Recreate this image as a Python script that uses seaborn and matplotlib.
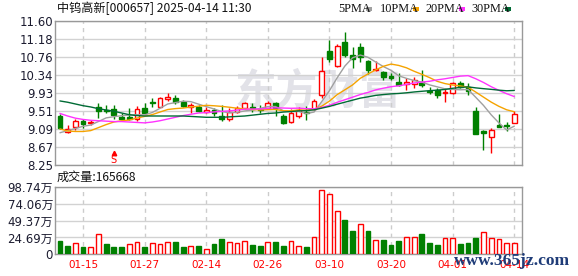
import numpy as np
import pandas as pd
import matplotlib
matplotlib.use("Agg")
import matplotlib.pyplot as plt
from matplotlib.patches import Rectangle
import seaborn as sns

# ---------------- data ----------------
dates = ["01-10", "01-13", "01-14", "01-15", "01-16", "01-17", "01-20", "01-21", "01-22", "01-23",
         "01-24", "01-27", "02-05", "02-06", "02-07", "02-10", "02-11", "02-12", "02-13", "02-14",
         "02-17", "02-18", "02-19", "02-20", "02-21", "02-24", "02-25", "02-26", "02-27", "02-28",
         "03-03", "03-04", "03-05", "03-06", "03-07", "03-10", "03-11", "03-12", "03-13", "03-14",
         "03-17", "03-18", "03-19", "03-20", "03-21", "03-24", "03-25", "03-26", "03-27", "03-28",
         "03-31", "04-01", "04-02", "04-03", "04-07", "04-08", "04-09", "04-10", "04-11", "04-14"]

opens = [9.38, 9.01, 9.14, 9.27, 9.22, 9.60, 9.53, 9.55, 9.37, 9.36,
         9.31, 9.58, 9.71, 9.61, 9.78, 9.81, 9.72, 9.60, 9.61, 9.49,
         9.53, 9.39, 9.31, 9.49, 9.57, 9.60, 9.55, 9.57, 9.70, 9.39,
         9.25, 9.40, 9.48, 9.55, 9.88, 10.90, 10.56, 11.10, 10.82, 10.99,
         10.67, 10.46, 10.41, 10.31, 10.19, 10.13, 10.13, 10.19, 9.97, 9.99,
         9.92, 9.92, 10.15, 10.07, 9.50, 9.03, 8.91, 9.17, 9.17, 9.22]
highs = [9.43, 9.18, 9.33, 9.33, 9.29, 9.69, 9.65, 9.65, 9.45, 9.58,
         9.62, 9.70, 9.80, 9.84, 9.92, 9.88, 9.76, 9.69, 9.65, 9.61,
         9.57, 9.65, 9.58, 9.62, 9.72, 9.69, 9.64, 9.75, 9.72, 9.43,
         9.55, 9.61, 9.62, 9.78, 10.77, 11.16, 11.06, 11.34, 11.00, 11.08,
         10.69, 10.68, 10.44, 10.38, 10.38, 10.28, 10.30, 10.46, 10.07, 10.03,
         10.03, 10.17, 10.21, 10.15, 9.59, 9.06, 9.10, 9.44, 9.26, 9.51]
lows = [9.08, 8.99, 9.07, 9.12, 9.19, 9.35, 9.47, 9.33, 9.30, 9.30,
        9.28, 9.45, 9.61, 9.60, 9.75, 9.68, 9.61, 9.45, 9.48, 9.45,
        9.38, 9.28, 9.27, 9.45, 9.55, 9.49, 9.45, 9.55, 9.38, 9.20,
        9.22, 9.34, 9.30, 9.53, 9.82, 10.64, 10.52, 10.77, 10.51, 10.64,
        10.36, 10.43, 10.23, 10.23, 10.09, 9.99, 10.04, 10.07, 9.90, 9.80,
        9.72, 9.90, 10.03, 9.88, 8.98, 8.60, 8.54, 9.13, 9.05, 9.22]
closes = [9.10, 9.08, 9.27, 9.20, 9.25, 9.51, 9.50, 9.41, 9.31, 9.33,
          9.56, 9.47, 9.69, 9.80, 9.83, 9.72, 9.63, 9.64, 9.51, 9.54,
          9.45, 9.33, 9.49, 9.57, 9.70, 9.55, 9.53, 9.70, 9.57, 9.22,
          9.45, 9.53, 9.46, 9.75, 10.44, 10.72, 11.03, 10.82, 10.71, 10.76,
          10.46, 10.48, 10.29, 10.27, 10.12, 10.17, 10.22, 10.11, 9.95, 9.89,
          9.94, 10.15, 10.07, 9.98, 8.98, 9.00, 9.06, 9.13, 9.15, 9.43]

# volume in 万 (10k)
volume = [19.8, 12.4, 15.9, 10.9, 10.9, 29.7, 14.9, 10.9, 10.9, 14.9,
          17.8, 10.9, 15.9, 14.9, 17.8, 18.3, 10.9, 12.4, 12.4, 8.0,
          14.9, 22.8, 17.8, 15.9, 19.3, 13.9, 12.4, 17.8, 17.8, 12.4,
          19.3, 11.9, 10.9, 25.3, 93.3, 88.8, 63.7, 50.9, 34.6, 44.5,
          34.6, 20.8, 20.8, 13.9, 19.3, 25.3, 25.3, 30.2, 16.4, 13.9,
          23.8, 23.8, 14.9, 16.4, 24.2, 32.7, 23.8, 22.3, 16.4, 16.57]
# 1 = red (close above previous close), 0 = green
volume_up = [0, 0, 1, 0, 1, 1, 0, 0, 0, 1,
             1, 0, 1, 1, 1, 0, 0, 1, 0, 1,
             0, 0, 1, 1, 1, 0, 0, 1, 0, 0,
             1, 1, 0, 1, 1, 1, 1, 0, 0, 1,
             0, 1, 0, 0, 0, 1, 1, 0, 0, 0,
             1, 1, 0, 0, 0, 1, 1, 1, 1, 1]

# start of the moving-average lines (their windows reach back before the first visible day)
ma5_head = [9.00, 9.05, 9.10, 9.15]
ma10_head = [9.09, 9.04, 9.03, 9.03, 9.05, 9.12, 9.19, 9.25, 9.28]
ma20_head = [9.45, 9.39, 9.34, 9.31, 9.29, 9.28, 9.27, 9.26, 9.26, 9.25,
             9.24, 9.23, 9.25, 9.28, 9.32, 9.36, 9.40, 9.43, 9.46]
ma30_head = [9.74, 9.71, 9.67, 9.63, 9.60, 9.56, 9.53, 9.50, 9.46, 9.42,
             9.40, 9.39, 9.39, 9.39, 9.39, 9.39, 9.39, 9.38, 9.37, 9.36,
             9.36, 9.36, 9.37, 9.38, 9.39, 9.41, 9.43, 9.45, 9.46]

price_ticks = [8.25, 8.66875, 9.0875, 9.50625, 9.925, 10.34375, 10.7625, 11.18125, 11.60]
price_labels = ["8.25", "8.67", "9.09", "9.51", "9.93", "10.34", "10.76", "11.18", "11.60"]
vol_ticks = [0, 24.685, 49.37, 74.055, 98.74]
vol_labels = ["0", "24.69万", "49.37万", "74.06万", "98.74万"]
date_tick_idx = [3, 11, 19, 27, 35, 43, 51, 59]

title = "中钨高新[000657] 2025-04-14 11:30"
vol_title = "成交量:165668"
signal_day = 7

# ---------------- derived ----------------
n = len(closes)
idx = np.arange(n)
cs = pd.Series(closes)


def moving_average(window, head):
    m = cs.rolling(window).mean()
    m.iloc[:len(head)] = head
    return m


ma = pd.DataFrame({
    "i": idx,
    "ma5": moving_average(5, ma5_head),
    "ma10": moving_average(10, ma10_head),
    "ma20": moving_average(20, ma20_head),
    "ma30": moving_average(30, ma30_head),
})

RED = "#ff0000"
GREEN = "#008000"
ma_colors = {"ma5": "#a0a0a0", "ma10": "#f5a300", "ma20": "#ff33ff", "ma30": "#006b35"}

# ---------------- figure ----------------
sns.set_theme(style="white")
plt.rcParams["font.family"] = ["Noto Sans CJK SC", "DejaVu Sans"]

W, H = 578, 276
fig = plt.figure(figsize=(W / 100, H / 100), dpi=100)


def fx(px):
    return px / W


def fy(py):
    return 1 - py / H


L, R = 55, 522
ax = fig.add_axes([fx(L), fy(165), (R - L) / W, (165 - 21) / H])
axv = fig.add_axes([fx(L), fy(254.4), (R - L) / W, (254.4 - 186.7) / H])

xlim = (-0.64, 60.0)

# watermark
ax.text(fx(318), fy(91), "东方财富", transform=fig.transFigure, ha="center", va="center",
        fontsize=30, fontweight="bold", color="#e2e2e8", zorder=0.5,
        family=["Noto Sans CJK SC"])

# candles
up = np.array(closes) >= np.array(opens)
ccol = [RED if u else GREEN for u in up]
face = ["white" if u else GREEN for u in up]
ax.vlines(idx, lows, highs, colors=ccol, lw=1.0, zorder=2)
body_bottom = np.minimum(opens, closes)
body_h = np.maximum(np.abs(np.array(closes) - np.array(opens)), 0.012)
ax.bar(idx, body_h, bottom=body_bottom, width=0.62, color=face, edgecolor=ccol,
       linewidth=1.0, zorder=3)

# moving averages via seaborn
for key in ["ma5", "ma10", "ma20", "ma30"]:
    sns.lineplot(data=ma, x="i", y=key, ax=ax, color=ma_colors[key], lw=1.0,
                 legend=False, zorder=4)

# signal marker
ax.plot([signal_day], [8.53], marker="^", color=RED, markersize=3.2, zorder=5, lw=0)
ax.text(signal_day, 8.365, "S", color=RED, fontsize=7, ha="center", va="center",
        family=["DejaVu Sans"], zorder=5)

ax.set_xlim(*xlim)
ax.set_ylim(8.25, 11.60)
ax.set_yticks(price_ticks)
ax.set_yticklabels(price_labels, fontsize=8.5, color="#1c1c30", family=["DejaVu Sans"])
ax.set_xticks(date_tick_idx)
ax.set_xticklabels([])
ax.set_xlabel("")
ax.set_ylabel("")
ax.tick_params(length=0, pad=1.5)
ax.yaxis.grid(True, color="#d2d2d2", lw=1.0)
ax.xaxis.grid(True, color="#cccccc", lw=1.0, ls=(0, (3, 3)))
ax.set_axisbelow(True)
for s in ax.spines.values():
    s.set_color("#999999")
    s.set_linewidth(1.0)

# volume
vcol = [RED if u else GREEN for u in volume_up]
vface = ["white" if u else GREEN for u in volume_up]
axv.bar(idx, volume, width=0.62, color=vface, edgecolor=vcol, linewidth=1.0, zorder=3)
axv.set_xlim(*xlim)
axv.set_ylim(0, 98.74)
axv.set_yticks(vol_ticks)
axv.set_yticklabels(vol_labels, fontsize=8.5, color="#1c1c30",
                    family=["DejaVu Sans", "Noto Sans CJK SC"])
axv.set_xticks(date_tick_idx)
axv.set_xticklabels([dates[i] for i in date_tick_idx], fontsize=7.5, color=RED,
                    family=["DejaVu Sans"])
axv.tick_params(length=0, pad=1.5)
axv.tick_params(axis="x", pad=4)
axv.yaxis.grid(True, color="#d2d2d2", lw=1.0)
axv.xaxis.grid(True, color="#cccccc", lw=1.0, ls=(0, (3, 3)))
axv.set_axisbelow(True)
for s in axv.spines.values():
    s.set_color("#999999")
    s.set_linewidth(1.0)

# header texts
fig.text(fx(57), fy(8), title, fontsize=8.7, va="center", ha="left", color="#111111",
         family=["Noto Sans CJK SC", "DejaVu Sans"])
fig.text(fx(57), fy(177.5), vol_title, fontsize=8.7, va="center", ha="left", color="#111111",
         family=["Noto Sans CJK SC", "DejaVu Sans"])

legend_items = [("5PMA", 338, 366, "ma5"), ("10PMA", 380, 413, "ma10"),
                ("20PMA", 425, 459, "ma20"), ("30PMA", 471, 505, "ma30")]
for label, tx, sx, key in legend_items:
    fig.text(fx(tx), fy(8.5), label, fontsize=8.8, va="center", ha="left", color="#111111",
             family=["Liberation Serif"])
    fig.patches.append(Rectangle((fx(sx), fy(11)), 6 / W, 4 / H, transform=fig.transFigure,
                                 facecolor=ma_colors[key], edgecolor="none"))

# site watermark
fig.text(fx(512), fy(261), "www.365jz.com", fontsize=12.5, va="center", ha="center",
         color="#1f3c78", fontweight="bold", family=["Liberation Serif"])

fig.savefig("out.png", dpi=100)
